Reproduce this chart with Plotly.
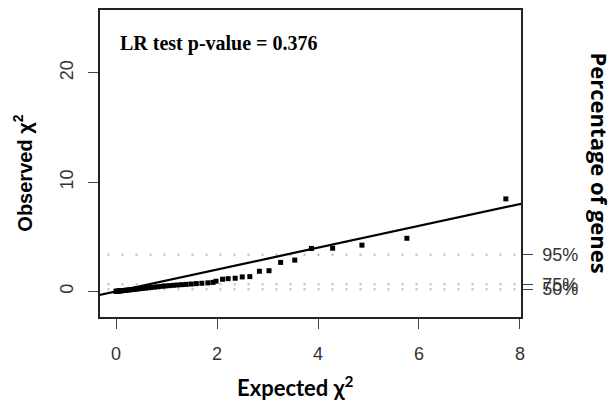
import plotly.graph_objects as go

# QQ plot of per-gene likelihood-ratio statistics
expected = [0.00, 0.01, 0.02, 0.04, 0.06, 0.08, 0.10, 0.13, 0.16, 0.19,
            0.22, 0.26, 0.30, 0.34, 0.38, 0.43, 0.48, 0.53, 0.58, 0.64,
            0.70, 0.76, 0.83, 0.90, 0.97, 1.05, 1.13, 1.21, 1.30, 1.39,
            1.49, 1.59, 1.70, 1.82, 1.92,
            1.98, 2.11, 2.22, 2.36, 2.50, 2.65, 2.84, 3.03, 3.26, 3.54,
            3.87, 4.29, 4.87, 5.76, 7.72]
observed = [0.00, 0.00, 0.01, 0.02, 0.03, 0.04, 0.05, 0.07, 0.08, 0.10,
            0.11, 0.13, 0.15, 0.17, 0.19, 0.22, 0.25, 0.27, 0.30, 0.33,
            0.36, 0.39, 0.42, 0.46, 0.49, 0.52, 0.55, 0.58, 0.61, 0.64,
            0.67, 0.71, 0.74, 0.78, 0.82,
            0.93, 1.11, 1.16, 1.20, 1.32, 1.35, 1.84, 1.89, 2.65, 2.86,
            3.93, 3.95, 4.23, 4.86, 8.47]

# identity reference line (slope 1, intercept 0)
ref_x = [-1, 9]
ref_y = [-1, 9]

# observed-statistic percentiles shown on the right axis
pct_values = [3.35, 0.65, 0.20]
pct_labels = ["95%", "75%", "50%"]

x_ticks = [0, 2, 4, 6, 8]
y_ticks = [0, 10, 20]

fig = go.Figure()

for v in pct_values:
    fig.add_trace(go.Scatter(x=ref_x, y=[v, v], mode="lines",
                             line=dict(color="#c4c4c4", width=2.5, dash="2px,12px"),
                             hoverinfo="skip", showlegend=False))

fig.add_trace(go.Scatter(x=ref_x, y=ref_y, mode="lines",
                         line=dict(color="black", width=2.2),
                         showlegend=False))

fig.add_trace(go.Scatter(x=expected, y=observed, mode="markers",
                         marker=dict(symbol="square", size=5, color="black",
                                     line=dict(width=0)),
                         showlegend=False))

# invisible trace anchoring the right axis
fig.add_trace(go.Scatter(x=[0], y=[0], yaxis="y2", mode="markers",
                         marker=dict(opacity=0), hoverinfo="skip", showlegend=False))

axis_font = dict(family="Liberation Sans, Arial, sans-serif", size=18, color="#333333")

fig.update_layout(
    width=614, height=403,
    margin=dict(l=100, r=93, t=8, b=86),
    paper_bgcolor="white", plot_bgcolor="white",
    xaxis=dict(range=[-0.317, 8.02], tickvals=x_ticks, ticks="outside", ticklen=10,
               tickcolor="#444", tickwidth=1.3, showgrid=False, zeroline=False,
               showline=True, linecolor="#222", linewidth=1.5, mirror=True,
               ticklabelstandoff=10, tickfont=axis_font),
    yaxis=dict(range=[-2.35, 25.77], tickvals=y_ticks, ticks="outside", ticklen=10,
               tickcolor="#444", tickwidth=1.3, showgrid=False, zeroline=False,
               showline=True, linecolor="#222", linewidth=1.5, mirror=True,
               tickangle=-90, ticklabelstandoff=8, tickfont=axis_font),
    yaxis2=dict(range=[-2.35, 25.77], overlaying="y", side="right",
                tickvals=pct_values, ticktext=pct_labels, ticks="outside", ticklen=10,
                tickcolor="#444", tickwidth=1.3, showgrid=False, zeroline=False,
                showline=True, linecolor="#222", linewidth=1.5,
                ticklabelstandoff=6, tickfont=axis_font),
    annotations=[
        dict(text="<b>LR test p-value = 0.376</b>", xref="paper", yref="paper",
             x=0.043, y=0.89, xanchor="left", yanchor="middle", showarrow=False,
             font=dict(family="Liberation Serif, Times New Roman, serif", size=20,
                       color="black")),
        dict(text="<b>Expected χ<sup>2</sup></b>", xref="paper", yref="paper",
             x=0.465, y=-0.225, xanchor="center", yanchor="middle", showarrow=False,
             font=dict(family="Lato, sans-serif", size=22, color="black")),
        dict(text="<b>Observed χ<sup>2</sup></b>", xref="paper", yref="paper",
             x=-0.183, y=0.47, xanchor="center", yanchor="middle", showarrow=False,
             textangle=-90,
             font=dict(family="Liberation Sans, Arial, sans-serif", size=20, color="black")),
        dict(text="<b>Percentage of genes</b>", xref="paper", yref="paper",
             x=1.19, y=0.50, xanchor="center", yanchor="middle", showarrow=False,
             textangle=90,
             font=dict(family="Open Sans, sans-serif", size=22, color="black")),
    ],
)

fig.write_html("out.html")
